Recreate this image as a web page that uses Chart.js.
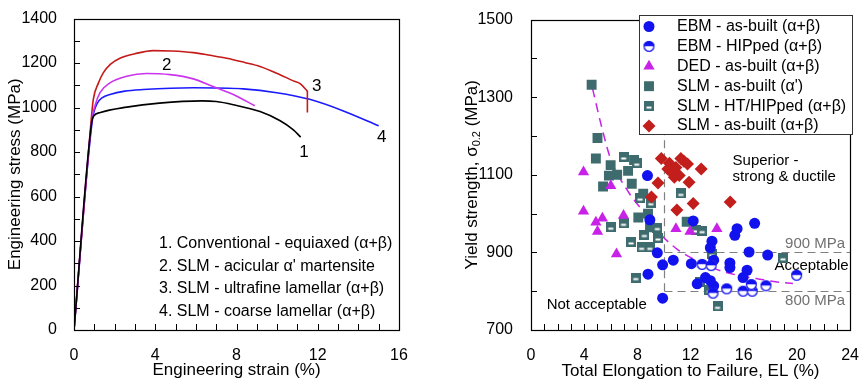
<!DOCTYPE html>
<html lang="en">
<head>
    <meta charset="UTF-8">
    <title>Ti-6Al-4V: stress-strain curves and yield strength vs elongation</title>
    <style>
        body {
            margin: 0;
            padding: 0;
            background-color: #fff;
        }

        .panels {
            position: relative;
            width: 867px;
            height: 385px;
        }

        #leftChart {
            position: absolute;
            left: 0;
            top: 0;
        }

        #rightChart {
            position: absolute;
            left: 430px;
            top: 0;
        }
    </style>
</head>
<body>
    <div class="panels">
        <canvas id="leftChart" width="430" height="385"></canvas>
        <canvas id="rightChart" width="437" height="385"></canvas>
    </div>

    <script src="https://cdn.jsdelivr.net/npm/chart.js"></script>
    <script>
        // ---- tick labels ----
        var strainTicks = [0, 4, 8, 12, 16];
        var stressTicks = [0, 200, 400, 600, 800, 1000, 1200, 1400];
        var elTicks = [0, 4, 8, 12, 16, 20, 24];
        var ysTicks = [700, 900, 1100, 1300, 1500];

        // ---- left panel: stress-strain curves [strain %, stress MPa] ----
        var curve1 = [[0, 0], [0.87, 935], [0.97, 962], [1.3, 978], [2.6, 1002], [4.2, 1020], [6.3, 1030], [7.0, 1027],
            [7.84, 1013], [9.16, 982], [10.15, 941], [10.8, 900], [11.16, 867]];
        var curve2 = [[0, 0], [0.88, 945], [1.03, 1007], [1.28, 1067], [1.77, 1111], [2.59, 1141], [3.57, 1153], [4.73, 1148],
            [5.87, 1129], [6.81, 1096], [7.84, 1059], [8.9, 1008]];
        var curve3 = [[0, 0], [0.85, 950], [0.95, 1037], [1.2, 1110], [1.44, 1156], [1.8, 1195], [2.26, 1222], [3.0, 1242],
            [3.9, 1256], [4.8, 1254], [5.87, 1247], [6.7, 1235], [7.52, 1222], [8.4, 1203], [9.16, 1185], [10.14, 1148],
            [10.8, 1120], [11.13, 1108], [11.49, 1074]];
        var curve3Drop = [[11.49, 1074], [11.49, 978]];
        var curve4 = [[0, 0], [0.9, 940], [1.12, 1015], [1.4, 1045], [1.77, 1059], [2.5, 1074], [3.41, 1081], [5.87, 1089],
            [8.33, 1084], [9.98, 1067], [11.6, 1037], [13.26, 985], [15.0, 918]];
        var curveTags = ['1', '2', '3', '4'];
        var curveNames = ['1. Conventional - equiaxed (α+β)', '2. SLM - acicular α\' martensite',
            '3. SLM - ultrafine lamellar (α+β)', '4. SLM - coarse lamellar (α+β)'];

        // ---- right panel: yield strength vs elongation [EL %, YS MPa] ----
        var ebmBuilt = [[8.76, 1098], [8.94, 984], [9.5, 899], [9.9, 868], [8.8, 844], [9.9, 782], [10.7, 880], [12.2, 981],
            [12.06, 871], [13.61, 929], [13.49, 912], [13.74, 880], [14.96, 873], [14.96, 861], [15.33, 944], [15.5, 961],
            [16.82, 975], [16.4, 901], [16.25, 854], [15.95, 835], [17.8, 893], [13.12, 835], [13.49, 827], [13.74, 814],
            [12.5, 819]];
        var ebmHip = [[12.87, 869], [13.55, 866], [13.69, 795], [14.72, 806], [15.95, 800], [16.64, 800], [16.57, 817],
            [17.67, 814], [19.98, 841]];
        var dedBuilt = [[3.95, 1107], [6.0, 1072], [3.95, 1006], [5.37, 988], [4.88, 978], [5.0, 954], [6.96, 995],
            [6.43, 896], [10.9, 961], [11.96, 954], [13.98, 961]];
        var slmAlphaPrime = [[4.56, 1332], [5.0, 1195], [4.88, 1142], [5.99, 1125], [5.86, 1098], [5.42, 1070], [6.48, 1100],
            [7.3, 1110], [7.75, 1138], [7.58, 1077], [8.44, 1051], [8.07, 990], [8.8, 1000], [8.95, 965], [11.71, 979]];
        var slmHip = [[6.97, 1146], [7.95, 1130], [8.2, 1040], [9.01, 1028], [11.27, 1052], [6.0, 965], [6.96, 975],
            [9.5, 964], [12.38, 958], [12.87, 956], [8.52, 946], [9.55, 937], [7.53, 927], [8.32, 913], [8.94, 913],
            [13.61, 896], [18.95, 886], [12.7, 823], [13.41, 802], [14.03, 761], [7.88, 835]];
        var slmBuilt = [[9.8, 1142], [10.41, 1130], [10.29, 1115], [11.27, 1142], [11.77, 1128], [10.9, 1119], [11.15, 1098],
            [10.78, 1094], [12.8, 1115], [11.89, 1081], [9.55, 1079], [9.06, 1043], [12.2, 1026], [10.97, 1009],
            [14.98, 1030], [11.5, 1135], [10.6, 1105]];
        var trendFit = [[4.63, 1322], [5.37, 1216], [6.0, 1140], [7.34, 1055], [8.57, 1000], [9.8, 945], [11.0, 908],
            [12.27, 882], [13.5, 862], [14.7, 848], [16.0, 838], [17.2, 831], [18.5, 824], [19.7, 820]];
        var seriesNames = ['EBM - as-built (α+β)', 'EBM - HIPped (α+β)', 'DED - as-built (α+β)',
            'SLM - as-built (α\')', 'SLM - HT/HIPped (α+β)', 'SLM - as-built (α+β)'];

        var FONT = 'Arial, "Liberation Sans", sans-serif';
        Chart.defaults.font.family = FONT;
        Chart.defaults.font.size = 16;
        Chart.defaults.color = '#000';

        function pts(arr) {
            return arr.map(function (p) { return { x: p[0], y: p[1] }; });
        }

        function tickList(list) {
            return function (scale) {
                scale.ticks = list.map(function (v) { return { value: v }; });
            };
        }

        function plain(v) {
            return String(v);
        }

        function curve(arr, color, straight) {
            return {
                data: pts(arr),
                showLine: true,
                borderColor: color,
                borderWidth: 1.6,
                pointRadius: 0,
                cubicInterpolationMode: straight ? 'default' : 'monotone',
                tension: 0,
                fill: false
            };
        }

        // inward tick marks + frame round the plot area
        function frameTicks(xStep, yStep) {
            return {
                id: 'frameTicks',
                afterDraw: function (chart) {
                    var ctx = chart.ctx, a = chart.chartArea;
                    var sx = chart.scales.x, sy = chart.scales.y;
                    ctx.save();
                    ctx.strokeStyle = '#000';
                    ctx.lineWidth = 1;
                    ctx.beginPath();
                    for (var v = sx.min + xStep; v < sx.max; v += xStep) {
                        var px = Math.round(sx.getPixelForValue(v)) + 0.5;
                        ctx.moveTo(px, a.bottom);
                        ctx.lineTo(px, a.bottom - 6);
                    }
                    for (v = sy.min + yStep; v < sy.max; v += yStep) {
                        var py = Math.round(sy.getPixelForValue(v)) + 0.5;
                        ctx.moveTo(a.left, py);
                        ctx.lineTo(a.left + 6, py);
                    }
                    ctx.stroke();
                    ctx.lineWidth = 1.2;
                    ctx.strokeRect(Math.round(a.left) + 0.5, Math.round(a.top) + 0.5,
                        Math.round(a.right - a.left), Math.round(a.bottom - a.top));
                    ctx.restore();
                }
            };
        }

        // ---- left chart ----
        var tagAt = [[11.32, 799], [4.56, 1191], [11.95, 1095], [15.15, 866]];
        var leftText = {
            id: 'leftText',
            afterDraw: function (chart) {
                var ctx = chart.ctx, sx = chart.scales.x, sy = chart.scales.y;
                ctx.save();
                ctx.fillStyle = '#000';
                ctx.font = '17px ' + FONT;
                ctx.textAlign = 'center';
                ctx.textBaseline = 'middle';
                curveTags.forEach(function (t, i) {
                    ctx.fillText(t, sx.getPixelForValue(tagAt[i][0]), sy.getPixelForValue(tagAt[i][1]));
                });
                ctx.font = '16px ' + FONT;
                ctx.textAlign = 'left';
                curveNames.forEach(function (t, i) {
                    ctx.fillText(t, 159, 243.5 + i * 22.7);
                });
                ctx.restore();
            }
        };

        new Chart(document.getElementById('leftChart'), {
            type: 'scatter',
            data: {
                datasets: [
                    curve(curve1, '#000000'),
                    curve(curve2, '#cc33ee'),
                    curve(curve3, '#c41a1a'),
                    curve(curve3Drop, '#c41a1a', true),
                    curve(curve4, '#1a1aff')
                ]
            },
            options: {
                responsive: false,
                animation: false,
                layout: { padding: { top: 15, right: 31, left: 0, bottom: 0 } },
                plugins: { legend: { display: false }, tooltip: { enabled: false } },
                scales: {
                    x: {
                        type: 'linear', min: 0, max: 16,
                        afterBuildTicks: tickList(strainTicks),
                        afterFit: function (s) { s.height = 55; },
                        grid: { display: false }, border: { display: false },
                        ticks: { padding: 8, maxRotation: 0, callback: plain },
                        title: { display: true, text: 'Engineering strain (%)', font: { size: 17 }, padding: { top: 0, bottom: 4 } }
                    },
                    y: {
                        type: 'linear', min: 0, max: 1400,
                        afterBuildTicks: tickList(stressTicks),
                        afterFit: function (s) { s.width = 74; },
                        grid: { display: false }, border: { display: false },
                        ticks: { padding: 9, callback: plain },
                        title: { display: true, text: 'Engineering stress (MPa)', font: { size: 17 }, padding: { top: 5, bottom: 0 } }
                    }
                }
            },
            plugins: [frameTicks(1, 100), leftText]
        });

        // ---- right chart marker images ----
        var BLUE = '#1212ee', MAGENTA = '#c822e8', TEAL = '#3e6b6d', RED = '#c21f1c';

        function halfCircle(r, color) {
            var c = document.createElement('canvas');
            var s = Math.ceil(2 * r + 2);
            c.width = c.height = s;
            var g = c.getContext('2d'), m = s / 2;
            g.fillStyle = '#fff';
            g.beginPath(); g.arc(m, m, r, 0, 2 * Math.PI); g.fill();
            g.fillStyle = color;
            g.beginPath(); g.arc(m, m, r, Math.PI, 2 * Math.PI); g.closePath(); g.fill();
            g.strokeStyle = color; g.lineWidth = 1.3;
            g.beginPath(); g.arc(m, m, r - 0.65, 0, 2 * Math.PI); g.stroke();
            g.strokeStyle = '#fff'; g.lineWidth = 1;
            g.beginPath(); g.moveTo(m - r + 1.5, m + 0.5); g.lineTo(m + r - 1.5, m + 0.5); g.stroke();
            return c;
        }

        function barSquare(size, color) {
            var c = document.createElement('canvas');
            c.width = c.height = size;
            var g = c.getContext('2d');
            g.fillStyle = color;
            g.fillRect(0, 0, size, size);
            g.fillStyle = '#fff';
            g.fillRect(size * 0.25, size * 0.55, size * 0.5, size * 0.2);
            return c;
        }

        function marks(arr, name, style, color, radius, order) {
            return {
                label: name,
                data: pts(arr),
                pointStyle: style,
                pointRadius: radius,
                backgroundColor: color,
                borderColor: color,
                borderWidth: 0,
                order: order
            };
        }

        var rightDatasets = [
            marks(slmBuilt, seriesNames[5], 'rectRot', RED, 6.5, 4),
            marks(ebmHip, seriesNames[1], halfCircle(5.5, BLUE), BLUE, 5.5, 5),
            marks(ebmBuilt, seriesNames[0], 'circle', BLUE, 5.5, 6),
            marks(dedBuilt, seriesNames[2], 'triangle', MAGENTA, 6.5, 7),
            marks(slmHip, seriesNames[4], barSquare(10, TEAL), TEAL, 5, 8),
            marks(slmAlphaPrime, seriesNames[3], 'rect', TEAL, 7, 9),
            {
                data: pts(trendFit),
                showLine: true,
                borderColor: MAGENTA,
                borderWidth: 1.5,
                borderDash: [9, 6],
                pointRadius: 0,
                cubicInterpolationMode: 'monotone',
                order: 10
            }
        ];

        // limits, annotations, legend box and subscripted y title
        var rightDecor = {
            id: 'rightDecor',
            beforeDatasetsDraw: function (chart) {
                var ctx = chart.ctx, a = chart.chartArea, sx = chart.scales.x, sy = chart.scales.y;
                ctx.save();
                ctx.strokeStyle = '#808080';
                ctx.lineWidth = 1.2;
                ctx.setLineDash([8, 5]);
                ctx.beginPath();
                var x10 = Math.round(sx.getPixelForValue(10)) + 0.5;
                ctx.moveTo(x10, sy.getPixelForValue(800));
                ctx.lineTo(x10, a.top);
                [900, 800].forEach(function (v) {
                    var py = Math.round(sy.getPixelForValue(v)) + 0.5;
                    ctx.moveTo(x10, py);
                    ctx.lineTo(a.right, py);
                });
                ctx.stroke();
                ctx.setLineDash([]);

                ctx.font = '15px ' + FONT;
                ctx.textBaseline = 'middle';
                ctx.fillStyle = '#707070';
                ctx.textAlign = 'right';
                ctx.fillText('900 MPa', a.right - 5, sy.getPixelForValue(922));
                ctx.fillText('800 MPa', a.right - 5, sy.getPixelForValue(776));
                ctx.fillStyle = '#000';
                ctx.textAlign = 'left';
                ctx.fillText('Superior -', sx.getPixelForValue(15.16), sy.getPixelForValue(1137));
                ctx.fillText('strong & ductile', sx.getPixelForValue(15.16), sy.getPixelForValue(1094));
                ctx.fillText('Not acceptable', sx.getPixelForValue(1.18), sy.getPixelForValue(766));
                ctx.textAlign = 'center';
                ctx.fillText('Acceptable', sx.getPixelForValue(21.1), sy.getPixelForValue(865));
                ctx.restore();
            },
            afterDraw: function (chart) {
                var ctx = chart.ctx, a = chart.chartArea;
                ctx.save();
                // legend
                var bx = 209, by = 15, bw = 213, bh = 119;
                ctx.fillStyle = '#fff';
                ctx.fillRect(bx, by, bw, bh);
                ctx.strokeStyle = '#333';
                ctx.lineWidth = 1;
                ctx.strokeRect(bx + 0.5, by + 0.5, bw, bh);
                var rows = [2, 1, 3, 5, 4, 0];
                ctx.font = '16px ' + FONT;
                ctx.textBaseline = 'middle';
                ctx.textAlign = 'left';
                rows.forEach(function (di, i) {
                    var ds = chart.data.datasets[di];
                    var y = 26.5 + i * 19.9;
                    ctx.fillStyle = ds.backgroundColor;
                    Chart.helpers.drawPoint(ctx, {
                        pointStyle: ds.pointStyle, radius: ds.pointRadius, rotation: 0, borderWidth: 0
                    }, 219, y);
                    ctx.fillStyle = '#000';
                    ctx.fillText(ds.label, 247, y);
                });

                // y axis title with subscript
                var f = '17px ' + FONT, fs = '11px ' + FONT;
                var p1 = 'Yield strength, σ', p2 = '0.2', p3 = ' (MPa)';
                ctx.translate(42, (a.top + a.bottom) / 2);
                ctx.rotate(-Math.PI / 2);
                ctx.font = f;
                var w1 = ctx.measureText(p1).width, w3 = ctx.measureText(p3).width;
                ctx.font = fs;
                var w2 = ctx.measureText(p2).width;
                var x0 = -(w1 + w2 + w3) / 2;
                ctx.fillStyle = '#000';
                ctx.font = f; ctx.fillText(p1, x0, 0);
                ctx.font = fs; ctx.fillText(p2, x0 + w1, 5);
                ctx.font = f; ctx.fillText(p3, x0 + w1 + w2, 0);
                ctx.restore();
            }
        };

        new Chart(document.getElementById('rightChart'), {
            type: 'scatter',
            data: { datasets: rightDatasets },
            options: {
                responsive: false,
                animation: false,
                layout: { padding: { top: 15, right: 11, left: 0, bottom: 0 } },
                plugins: { legend: { display: false }, tooltip: { enabled: false } },
                scales: {
                    x: {
                        type: 'linear', min: 0, max: 24,
                        afterBuildTicks: tickList(elTicks),
                        afterFit: function (s) { s.height = 55; },
                        grid: { display: false }, border: { display: false },
                        ticks: { padding: 8, maxRotation: 0, callback: plain },
                        title: { display: true, text: 'Total Elongation to Failure, EL (%)', font: { size: 17 }, padding: { top: 0, bottom: 3 } }
                    },
                    y: {
                        type: 'linear', min: 700, max: 1500,
                        afterBuildTicks: tickList(ysTicks),
                        afterFit: function (s) { s.width = 101; },
                        grid: { display: false }, border: { display: false },
                        ticks: { padding: 10, callback: plain }
                    }
                }
            },
            plugins: [frameTicks(1, 100), rightDecor]
        });
    </script>
</body>
</html>
